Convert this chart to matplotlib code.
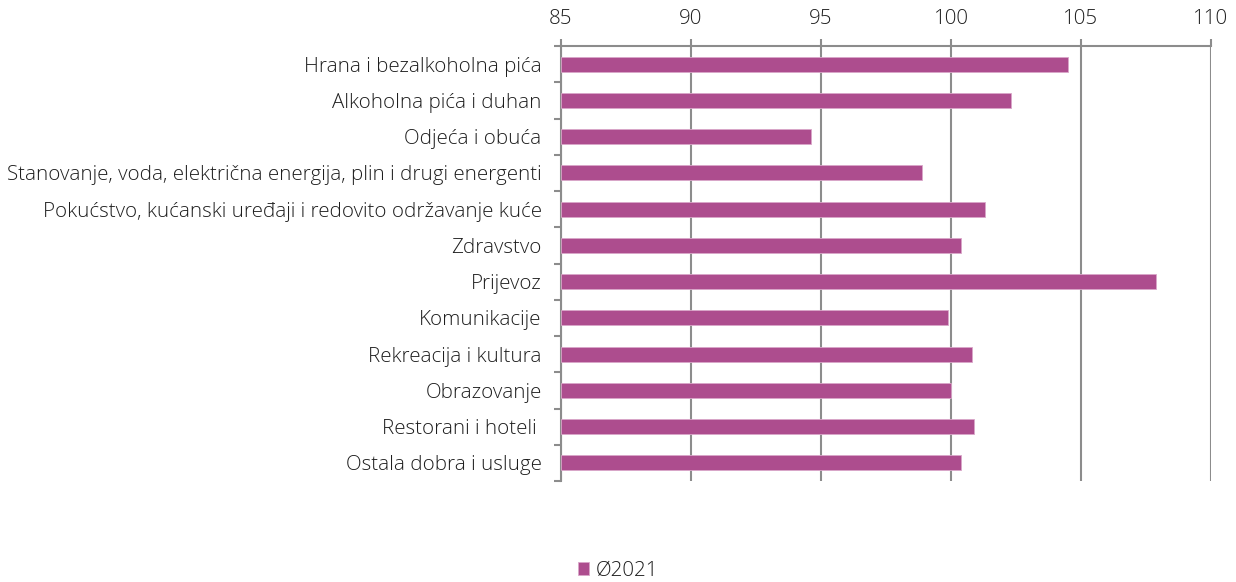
import matplotlib
matplotlib.use("Agg")
import matplotlib.pyplot as plt
import numpy as np

categories = [
    "Hrana i bezalkoholna pića",
    "Alkoholna pića i duhan",
    "Odjeća i obuća",
    "Stanovanje, voda, električna energija, plin i drugi energenti",
    "Pokućstvo, kućanski uređaji i redovito održavanje kuće",
    "Zdravstvo",
    "Prijevoz",
    "Komunikacije",
    "Rekreacija i kultura",
    "Obrazovanje",
    "Restorani i hoteli ",
    "Ostala dobra i usluge",
]
values = [104.5, 102.3, 94.6, 98.9, 101.3, 100.4, 107.9, 99.9, 100.8, 100.0, 100.9, 100.4]
series_name = "Ø2021"
xticks = [85, 90, 95, 100, 105, 110]

plt.rcParams['font.family'] = ['Open Sans', 'DejaVu Sans']
plt.rcParams['font.weight'] = 'light'

W, H = 1236, 582
fig = plt.figure(figsize=(W / 100, H / 100), dpi=100)
ax = fig.add_axes([561 / W, 1 - 481 / H, (1211 - 561) / W, (481 - 46) / H])

bar_color = "#AD4D8E"
grid_color = "#8C8C8C"
text_color = "#1E1E1E"
fs = 14.8

y = np.arange(len(categories))
ax.barh(y, [v - 85 for v in values], left=85, height=0.42, color=bar_color,
        edgecolor="#D9A7C9", linewidth=0.6, label=series_name, zorder=3)

ax.set_xlim(85, 110)
ax.set_ylim(len(categories) - 0.5, -0.5)
ax.set_xticks(xticks)
ax.xaxis.tick_top()
ax.tick_params(axis='x', which='major', length=5, width=1.5, color=grid_color,
               labelsize=fs, labelcolor=text_color, pad=7)
ax.grid(axis='x', color=grid_color, linewidth=1.5, zorder=1)

ax.set_yticks(y)
ax.set_yticklabels(categories)
ax.tick_params(axis='y', which='major', length=0, labelsize=fs, labelcolor=text_color, pad=14)
ax.set_yticks(np.arange(-0.5, len(categories) + 0.5, 1), minor=True)
ax.tick_params(axis='y', which='minor', length=5, width=1.5, color=grid_color)

for s in ['right', 'bottom']:
    ax.spines[s].set_visible(False)
for s in ['left', 'top']:
    ax.spines[s].set_color(grid_color)
    ax.spines[s].set_linewidth(1.5)

leg = fig.legend(loc='lower center', bbox_to_anchor=(0.5, -0.03), frameon=False,
                 fontsize=fs, handlelength=0.55, handleheight=0.55, handletextpad=0.3)
for t in leg.get_texts():
    t.set_color(text_color)

fig.savefig("out.png", dpi=100)
